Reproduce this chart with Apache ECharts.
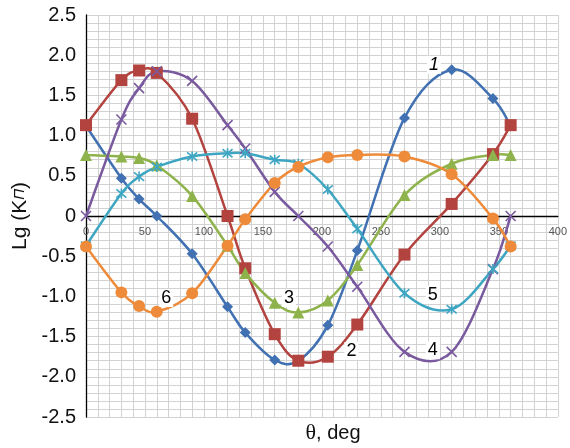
<!DOCTYPE html>
<html>
<head>
<meta charset="utf-8">
<script src="https://cdn.jsdelivr.net/npm/echarts/dist/echarts.min.js"></script>
<style>
html, body { margin: 0; padding: 0; background: #fff; }
#chart { width: 570px; height: 448px; }
</style>
</head>
<body>
<div id="chart"></div>
<script>
// углы, deg (общий столбец X для всех кривых)
const thetaDeg = [0, 30, 45, 60, 90, 120, 135, 160, 180, 205, 230, 270, 310, 345, 360];
// Lg(K) по кривым 1..6
const curve1 = [1.12, 0.47, 0.21, 0.00, -0.47, -1.13, -1.45, -1.79, -1.80, -1.36, -0.43, 1.22, 1.82, 1.46, 1.12];
const curve2 = [1.13, 1.69, 1.81, 1.78, 1.21, 0.00, -0.65, -1.47, -1.80, -1.75, -1.35, -0.48, 0.15, 0.77, 1.13];
const curve3 = [0.76, 0.74, 0.72, 0.63, 0.25, -0.37, -0.71, -1.08, -1.20, -1.05, -0.61, 0.26, 0.65, 0.76, 0.76];
const curve4 = [0.00, 1.20, 1.59, 1.80, 1.68, 1.13, 0.84, 0.30, 0.00, -0.38, -0.88, -1.69, -1.69, -0.66, 0.00];
const curve5 = [-0.37, 0.28, 0.49, 0.61, 0.74, 0.78, 0.78, 0.70, 0.65, 0.33, -0.16, -0.96, -1.16, -0.66, -0.37];
const curve6 = [-0.38, -0.95, -1.12, -1.19, -0.96, -0.37, -0.04, 0.41, 0.61, 0.73, 0.76, 0.74, 0.52, -0.03, -0.38];
// номера кривых и где они подписаны (в координатах графика)
const curveNames = ['1', '2', '3', '4', '5', '6'];
const nameAt = [[295, 1.88], [225, -1.68], [172, -1.02], [294, -1.67], [294, -0.98], [68, -1.02]];

const FONT = 'Liberation Sans, Arial, sans-serif';
const chart = echarts.init(document.getElementById('chart'));

function pairs(ys) {
    return thetaDeg.map(function (t, i) { return [t, ys[i]]; });
}

// крестик и звёздочка как в Excel
const CROSS = 'path://M0,0L10,10M10,0L0,10';
const STAR = 'path://M0,0L10,10M10,0L0,10M5,-1L5,11';

// сглаженная линия как в Excel (без обрезки выбросов, как делает smooth в echarts)
function curveSeries(ys, color) {
    return {
        type: 'custom',
        coordinateSystem: 'cartesian2d',
        data: pairs(ys),
        encode: { x: 0, y: 1 },
        silent: true,
        z: 2,
        renderItem: function (params, api) {
            if (params.dataIndex !== 0) return null;
            const p = ys.map(function (y, i) { return api.coord([thetaDeg[i], y]); });
            const n = p.length;
            const kids = [];
            for (let i = 0; i < n - 1; i++) {
                const a = p[Math.max(i - 1, 0)], b = p[i], c = p[i + 1], d = p[Math.min(i + 2, n - 1)];
                kids.push({
                    type: 'bezierCurve',
                    shape: {
                        x1: b[0], y1: b[1], x2: c[0], y2: c[1],
                        cpx1: b[0] + (c[0] - a[0]) / 6, cpy1: b[1] + (c[1] - a[1]) / 6,
                        cpx2: c[0] - (d[0] - b[0]) / 6, cpy2: c[1] - (d[1] - b[1]) / 6
                    },
                    style: { stroke: color, lineWidth: 2.5, fill: null, lineCap: 'round' }
                });
            }
            return { type: 'group', children: kids };
        }
    };
}

function markerSeries(ys, color, symbol, size, stroked) {
    return {
        type: 'scatter',
        data: pairs(ys),
        symbol: symbol,
        symbolSize: size,
        itemStyle: stroked
            ? { color: 'rgba(0,0,0,0)', borderColor: color, borderWidth: 1.6, opacity: 1 }
            : { color: color, borderWidth: 0, opacity: 1 },
        emphasis: { disabled: true },
        z: 2
    };
}

const curves = [
    [curve1, '#4171b2', 'diamond', 11, false],
    [curve2, '#b3433f', 'rect', 12, false],
    [curve3, '#8fb34c', 'triangle', 12, false],
    [curve4, '#7a5a9e', CROSS, 10, true],
    [curve5, '#3ea6c2', STAR, 10, true],
    [curve6, '#ee8b3a', 'circle', 12, false]
];
const seriesList = [];
curves.forEach(function (c) {
    seriesList.push(curveSeries(c[0], c[1]));
    seriesList.push(markerSeries(c[0], c[1], c[2], c[3], c[4]));
});

const option = {
    animation: false,
    grid: { left: 86, top: 15, right: 4, bottom: 31 },
    xAxis: {
        type: 'value',
        min: 0,
        max: 400,
        interval: 50,
        offset: -201,
        axisLine: { onZero: false, lineStyle: { color: '#000', width: 1.3 } },
        axisTick: { show: false },
        axisLabel: { color: '#555', fontSize: 11, margin: 10, fontFamily: FONT },
        splitLine: { show: true, lineStyle: { color: '#d2d2d2', width: 1 } },
        minorTick: { show: false, splitNumber: 5 },
        minorSplitLine: { show: true, lineStyle: { color: '#d2d2d2', width: 1 } }
    },
    yAxis: {
        type: 'value',
        min: -2.5,
        max: 2.5,
        interval: 0.5,
        axisLine: { show: true, onZero: false, lineStyle: { color: '#000', width: 1.3 } },
        axisTick: { show: false },
        axisLabel: {
            color: '#111', fontSize: 20, margin: 10, fontFamily: FONT,
            formatter: function (v) { return v === 0 ? '0' : v.toFixed(1); }
        },
        splitLine: { show: true, lineStyle: { color: '#d2d2d2', width: 1 } },
        minorTick: { show: false, splitNumber: 5 },
        minorSplitLine: { show: true, lineStyle: { color: '#d2d2d2', width: 1 } },
        name: 'Lg (K{s|П})',
        nameLocation: 'middle',
        nameGap: 54,
        nameTextStyle: {
            color: '#111', fontSize: 21, fontFamily: FONT,
            rich: { s: { fontSize: 15, fontStyle: 'italic', color: '#111', fontFamily: FONT } }
        }
    },
    series: seriesList,
    graphic: [{
        type: 'text',
        style: {
            text: '{t|θ}, deg',
            x: 333, y: 433,
            align: 'center', verticalAlign: 'middle',
            font: '20px ' + FONT,
            fill: '#111',
            rich: { t: { fontFamily: 'Liberation Serif, serif', fontSize: 22, color: '#111' } }
        }
    }]
};
chart.setOption(option);

// подписи номеров кривых
const marks = curveNames.map(function (txt, i) {
    const p = chart.convertToPixel({ gridIndex: 0 }, nameAt[i]);
    return {
        type: 'text',
        z: 10,
        style: {
            text: txt,
            x: p[0], y: p[1],
            align: 'center', verticalAlign: 'middle',
            font: (i === 0 ? 'italic ' : '') + '18px ' + FONT,
            fill: '#000',
            backgroundColor: '#fff',
            padding: [0, 2]
        }
    };
});
chart.setOption({ graphic: option.graphic.concat(marks) });
</script>
</body>
</html>
